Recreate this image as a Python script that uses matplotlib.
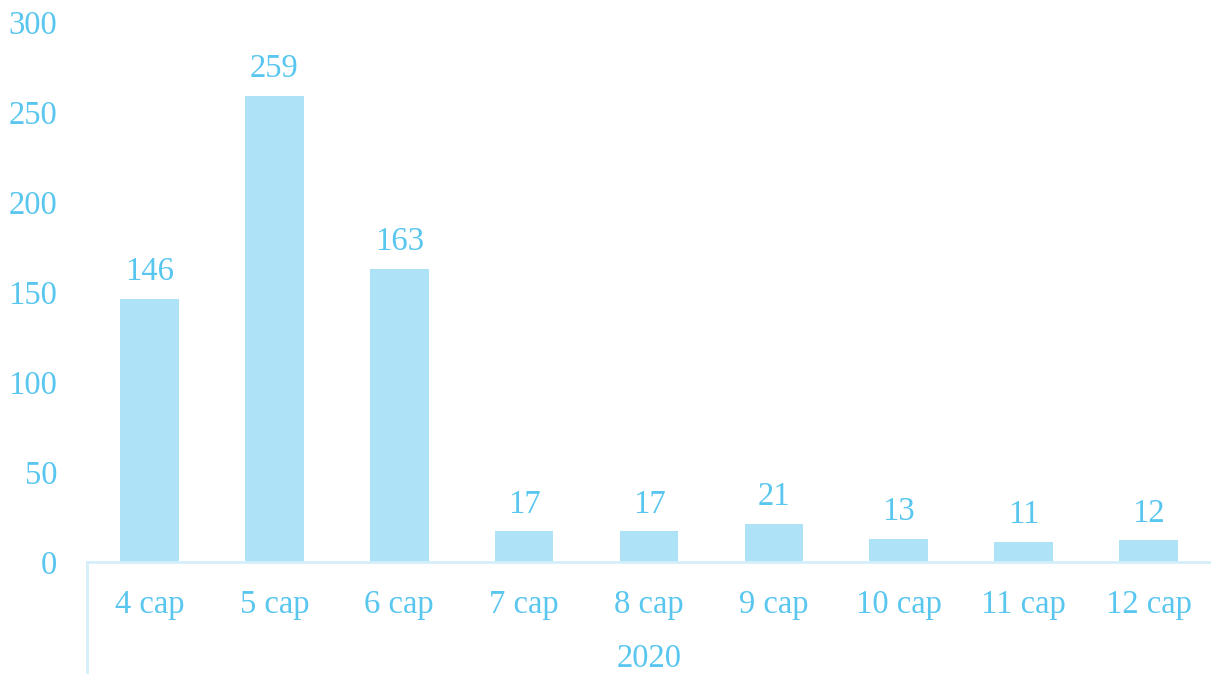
import matplotlib.pyplot as plt

categories = ["4 cap", "5 cap", "6 cap", "7 cap", "8 cap", "9 cap", "10 cap", "11 cap", "12 cap"]
values = [146, 259, 163, 17, 17, 21, 13, 11, 12]
group_label = "2020"
yticks = [0, 50, 100, 150, 200, 250, 300]

text_color = "#58C6EF"
bar_color = "#ADE2F7"
line_color = "#D4EFFA"
fs = 23.5

plt.rcParams['font.family'] = ['Liberation Serif', 'DejaVu Serif']

fig = plt.figure(figsize=(12.11, 6.74), dpi=100)
ax = fig.add_axes([87 / 1211, 112 / 674, 1 - 87 / 1211, 540 / 674])

x = range(len(categories))
bars = ax.bar(x, values, width=0.47, color=bar_color)
ax.set_xlim(-0.5, len(categories) - 0.5)
ax.set_ylim(0, 300)

for xi, v in zip(x, values):
    ax.annotate(str(v), (xi, v), xytext=(0, 8.5), textcoords="offset points",
                ha="center", va="bottom", color=text_color, fontsize=fs)

ax.set_yticks(yticks)
ax.set_yticklabels([str(t) for t in yticks])
ax.tick_params(axis="y", length=0, pad=21.5, labelsize=fs, labelcolor=text_color)
ax.set_xticks([])

for s in ["top", "right", "left"]:
    ax.spines[s].set_visible(False)
ax.spines["bottom"].set_color(line_color)
ax.spines["bottom"].set_linewidth(2)

# category labels and group label below the axis
for xi, c in zip(x, categories):
    ax.text(xi, -23.5, c, ha="center", va="center", color=text_color, fontsize=fs)
ax.text((len(categories) - 1) / 2, -54, group_label, ha="center", va="center",
        color=text_color, fontsize=fs)

# vertical separator of the multi-level axis
ax.plot([-0.5, -0.5], [0, -70], color=line_color, lw=2, clip_on=False)

fig.savefig("out.png", dpi=100)
